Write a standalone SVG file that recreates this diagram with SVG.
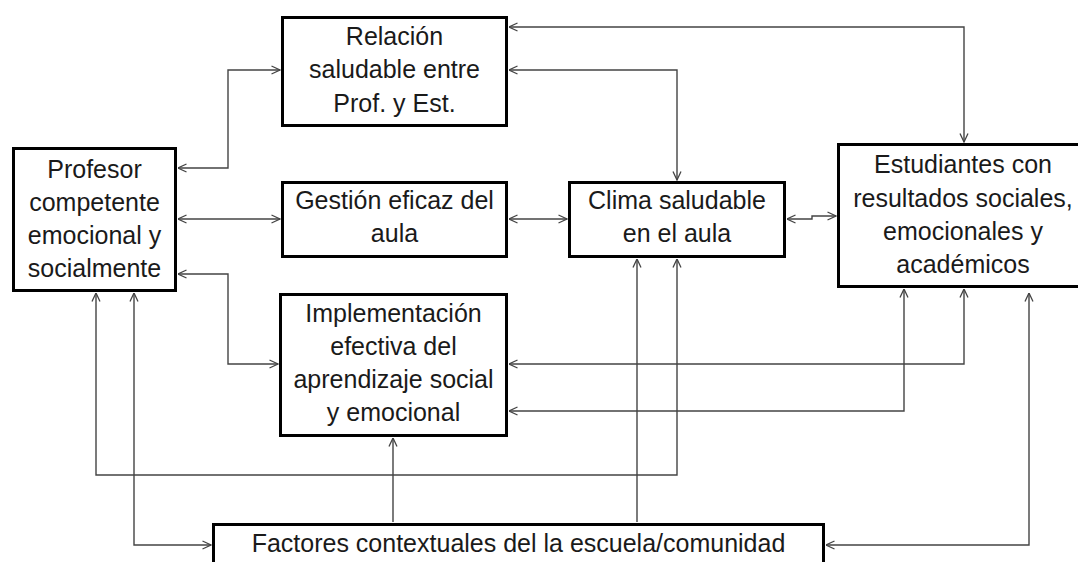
<svg xmlns="http://www.w3.org/2000/svg" width="1078" height="562" viewBox="0 0 1078 562">
<defs>
<marker id="a" viewBox="0 0 10 10" refX="9.5" refY="5" markerWidth="10" markerHeight="10" markerUnits="userSpaceOnUse" orient="auto-start-reverse">
<path d="M1,1 L9.5,5 L1,9" fill="none" stroke="#444" stroke-width="1.3"/>
</marker>
<style>
.box{fill:#fff;stroke:#000;stroke-width:3}
.t{font-family:"Liberation Sans",Arial,sans-serif;font-size:25px;fill:#1a1a1a;text-anchor:middle}
.c{fill:none;stroke:#444;stroke-width:1.4}
.b{marker-start:url(#a);marker-end:url(#a)}
.e{marker-end:url(#a)}
</style>
</defs>
<rect width="1078" height="562" fill="#fff"/>
<g id="connectors">
<path class="c b" d="M178,168 H228 V70 H280"/>
<path class="c b" d="M178,219 H280"/>
<path class="c b" d="M178,274 H228 V364 H278"/>
<path class="c b" d="M509,219 H567"/>
<path class="c b" d="M509,70 H677 V180"/>
<path class="c b" d="M509,27 H964 V142"/>
<path class="c b" d="M787,219 H812 V216 H836"/>
<path class="c b" d="M509,364 H964 V289"/>
<path class="c b" d="M509,411 H904 V289"/>
<path class="c b" d="M1029,293 V545 H826"/>
<path class="c b" d="M96,293 V475 H677 V259"/>
<path class="c b" d="M134,293 V545 H211"/>
<path class="c e" d="M393,522 V438"/>
<path class="c e" d="M637,522 V259"/>
</g>
<g id="profesor">
<rect class="box" x="13.5" y="148.5" width="162" height="142"/>
<text class="t" x="94.5" y="178">Profesor</text>
<text class="t" x="94.5" y="211">competente</text>
<text class="t" x="94.5" y="244">emocional y</text>
<text class="t" x="94.5" y="277">socialmente</text>
</g>
<g id="relacion">
<rect class="box" x="282.5" y="17.5" width="224" height="108"/>
<text class="t" x="394.5" y="45">Relación</text>
<text class="t" x="394.5" y="78">saludable entre</text>
<text class="t" x="394.5" y="112">Prof. y Est.</text>
</g>
<g id="gestion">
<rect class="box" x="282.5" y="182.5" width="224" height="74"/>
<text class="t" x="394.5" y="209">Gestión eficaz del</text>
<text class="t" x="394.5" y="242">aula</text>
</g>
<g id="implementacion">
<rect class="box" x="280.5" y="294.5" width="226" height="141"/>
<text class="t" x="393.5" y="322">Implementación</text>
<text class="t" x="393.5" y="355">efectiva del</text>
<text class="t" x="393.5" y="388">aprendizaje social</text>
<text class="t" x="393.5" y="421">y emocional</text>
</g>
<g id="clima">
<rect class="box" x="569.5" y="182.5" width="215" height="74"/>
<text class="t" x="677" y="209">Clima saludable</text>
<text class="t" x="677" y="242">en el aula</text>
</g>
<g id="estudiantes">
<rect class="box" x="838.5" y="144.5" width="250" height="142"/>
<text class="t" x="963" y="173">Estudiantes con</text>
<text class="t" x="963" y="207">resultados sociales,</text>
<text class="t" x="963" y="240">emocionales y</text>
<text class="t" x="963" y="273">académicos</text>
</g>
<g id="factores">
<rect class="box" x="213.5" y="524.5" width="610" height="50"/>
<text class="t" x="518.5" y="552">Factores contextuales del la escuela/comunidad</text>
</g>
</svg>
